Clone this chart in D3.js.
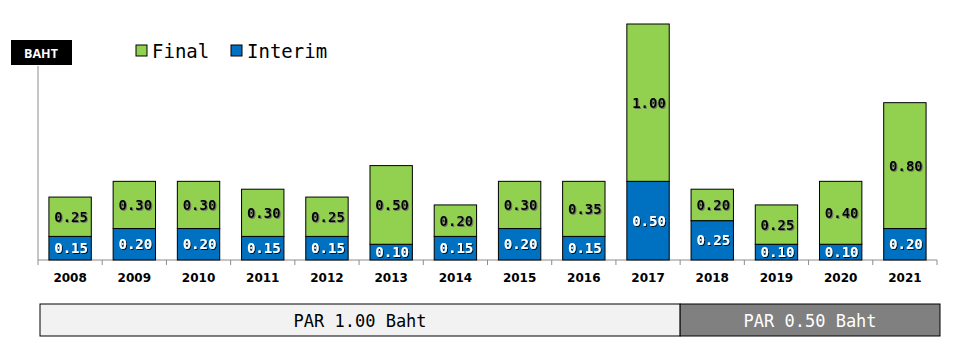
<!DOCTYPE html>
<html>
<head>
<meta charset="utf-8">
<script src="https://cdn.jsdelivr.net/npm/d3@7"></script>
<style>
  body { margin: 0; background: #fff; }
  svg { display: block; }
</style>
</head>
<body>
<div id="chart"></div>
<script>
const years = ["2008","2009","2010","2011","2012","2013","2014","2015","2016","2017","2018","2019","2020","2021"];
const interim = [0.15, 0.20, 0.20, 0.15, 0.15, 0.10, 0.15, 0.20, 0.15, 0.50, 0.25, 0.10, 0.10, 0.20];
const final = [0.25, 0.30, 0.30, 0.30, 0.25, 0.50, 0.20, 0.30, 0.35, 1.00, 0.20, 0.25, 0.40, 0.80];
const parLabels = ["PAR 1.00 Baht", "PAR 0.50 Baht"];
const parSplit = "2018"; // first year at the new par

const width = 960, height = 351;
const mono = "'DejaVu Sans Mono', 'Liberation Mono', monospace";

const svg = d3.select("#chart").append("svg")
  .attr("width", width)
  .attr("height", height);

// drop shadows for the value labels
const defs = svg.append("defs");
const shLight = defs.append("filter").attr("id", "shLight");
shLight.append("feDropShadow").attr("dx", 1).attr("dy", 1).attr("stdDeviation", 0.4)
  .attr("flood-color", "#666").attr("flood-opacity", 0.8);
const shDark = defs.append("filter").attr("id", "shDark");
shDark.append("feDropShadow").attr("dx", 1).attr("dy", 1).attr("stdDeviation", 0.4)
  .attr("flood-color", "#000").attr("flood-opacity", 0.8);

const x = d3.scaleBand()
  .domain(years)
  .range([38, 937])
  .paddingInner(0.34)
  .paddingOuter(0.17);

const y = d3.scaleLinear()
  .domain([0, 1.5])
  .range([260, 24]);

const rows = years.map((yr, i) => ({ year: yr, interim: interim[i], final: final[i] }));

// Y axis line
svg.append("line")
  .attr("x1", 38).attr("x2", 38)
  .attr("y1", 66).attr("y2", 260)
  .attr("stroke", "#8c8c8c");

// X axis line + ticks between categories
svg.append("line")
  .attr("x1", 38).attr("x2", 937)
  .attr("y1", 260).attr("y2", 260)
  .attr("stroke", "#8c8c8c");

const step = x.step();
const x0 = x.range()[0];
svg.selectAll("line.tick")
  .data(d3.range(years.length + 1))
  .enter().append("line")
  .attr("class", "tick")
  .attr("x1", i => x0 + i * step).attr("x2", i => x0 + i * step)
  .attr("y1", 260).attr("y2", 265)
  .attr("stroke", "#8c8c8c");

// Bars
const g = svg.selectAll("g.bar")
  .data(rows)
  .enter().append("g")
  .attr("class", "bar")
  .attr("transform", d => `translate(${x(d.year)},0)`);

g.append("rect")
  .attr("x", 0)
  .attr("y", d => y(d.interim))
  .attr("width", x.bandwidth())
  .attr("height", d => y(0) - y(d.interim))
  .attr("fill", "#0070c0")
  .attr("stroke", "#000");

g.append("rect")
  .attr("x", 0)
  .attr("y", d => y(d.interim + d.final))
  .attr("width", x.bandwidth())
  .attr("height", d => y(d.interim) - y(d.interim + d.final))
  .attr("fill", "#92d050")
  .attr("stroke", "#000");

g.append("text")
  .attr("x", x.bandwidth() / 2 + 1)
  .attr("y", d => (y(0) + y(d.interim)) / 2)
  .attr("dy", "0.35em")
  .attr("text-anchor", "middle")
  .attr("font-family", mono)
  .attr("font-weight", "bold")
  .attr("font-size", 14)
  .attr("fill", "#fff")
  .attr("filter", "url(#shDark)")
  .text(d => d.interim.toFixed(2));

g.append("text")
  .attr("x", x.bandwidth() / 2 + 1)
  .attr("y", d => (y(d.interim) + y(d.interim + d.final)) / 2)
  .attr("dy", "0.35em")
  .attr("text-anchor", "middle")
  .attr("font-family", mono)
  .attr("font-weight", "bold")
  .attr("font-size", 14)
  .attr("fill", "#000")
  .attr("filter", "url(#shLight)")
  .text(d => d.final.toFixed(2));

// Year labels
svg.selectAll("text.year")
  .data(years)
  .enter().append("text")
  .attr("class", "year")
  .attr("x", d => x(d) + x.bandwidth() / 2)
  .attr("y", 282)
  .attr("text-anchor", "middle")
  .attr("font-family", "'DejaVu Sans', Verdana, sans-serif")
  .attr("font-weight", "bold")
  .attr("font-size", 12)
  .attr("fill", "#000")
  .text(d => d);

// BAHT unit box
svg.append("rect")
  .attr("x", 11).attr("y", 40)
  .attr("width", 61).attr("height", 25)
  .attr("fill", "#000");
svg.append("text")
  .attr("x", 41).attr("y", 53.5)
  .attr("dy", "0.35em")
  .attr("text-anchor", "middle")
  .attr("font-family", "'Open Sans', 'DejaVu Sans', sans-serif")
  .attr("font-weight", "bold")
  .attr("font-size", 12.5)
  .attr("fill", "#fff")
  .text("BAHT");

// Legend
const legend = [
  { name: "Final", color: "#92d050", x: 136 },
  { name: "Interim", color: "#0070c0", x: 231 }
];
const lg = svg.selectAll("g.legend")
  .data(legend)
  .enter().append("g")
  .attr("class", "legend")
  .attr("transform", d => `translate(${d.x},45)`);
lg.append("rect")
  .attr("width", 11).attr("height", 11)
  .attr("fill", d => d.color)
  .attr("stroke", "#000");
lg.append("text")
  .attr("x", 16).attr("y", 6)
  .attr("dy", "0.35em")
  .attr("font-family", mono)
  .attr("font-size", 19)
  .attr("fill", "#000")
  .text(d => d.name);

// PAR boxes
const split = x(parSplit) - x.step() * x.paddingInner() / 2;
const parBoxes = [
  { label: parLabels[0], x1: 40, x2: split, fill: "#f2f2f2", color: "#000" },
  { label: parLabels[1], x1: split, x2: 940, fill: "#808080", color: "#fff" }
];
svg.selectAll("rect.par")
  .data(parBoxes)
  .enter().append("rect")
  .attr("class", "par")
  .attr("x", d => d.x1).attr("y", 304)
  .attr("width", d => d.x2 - d.x1).attr("height", 32)
  .attr("fill", d => d.fill)
  .attr("stroke", "#000");
svg.selectAll("text.par")
  .data(parBoxes)
  .enter().append("text")
  .attr("class", "par")
  .attr("x", d => (d.x1 + d.x2) / 2).attr("y", 321)
  .attr("dy", "0.35em")
  .attr("text-anchor", "middle")
  .attr("font-family", mono)
  .attr("font-size", 17)
  .attr("fill", d => d.color)
  .text(d => d.label);
</script>
</body>
</html>
